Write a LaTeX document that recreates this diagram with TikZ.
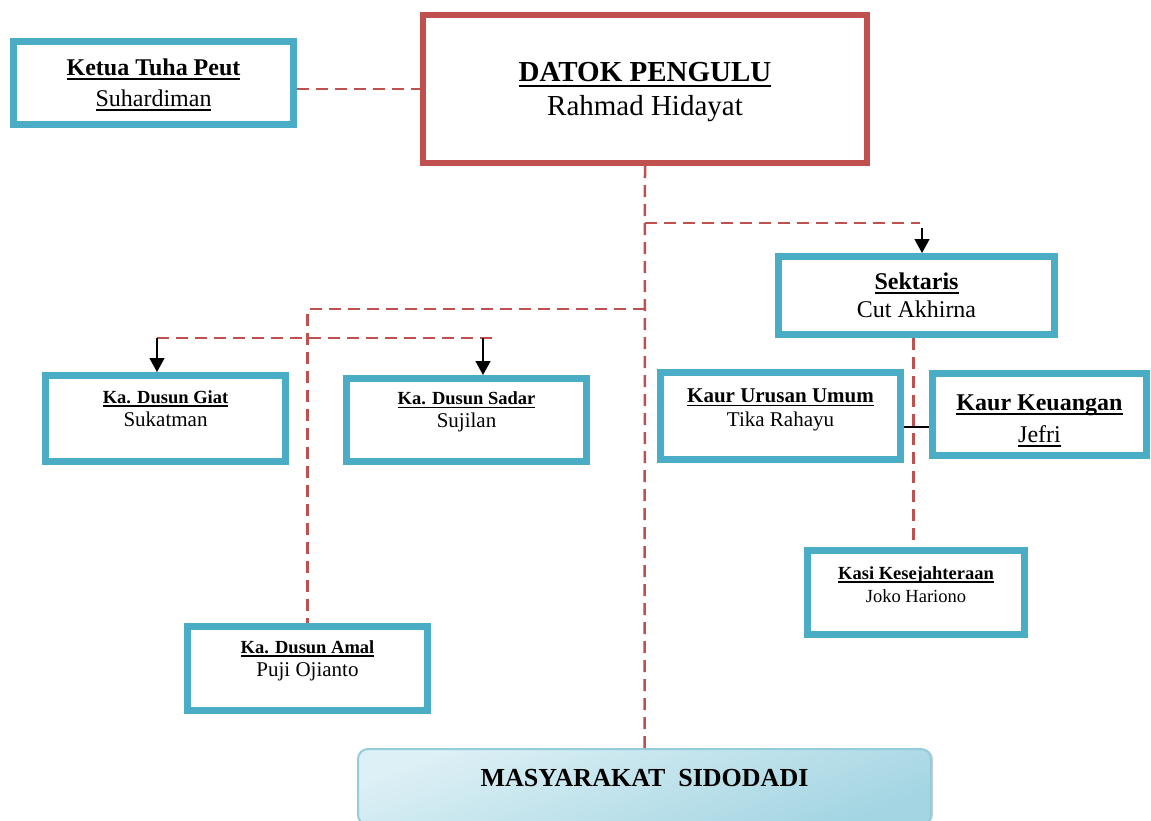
\documentclass[tikz,border=0pt]{standalone}
\usepackage{fontspec}
\setmainfont{Liberation Serif}
\usetikzlibrary{arrows.meta,shadows}

\definecolor{merah}{HTML}{C0504D}
\definecolor{biru}{HTML}{4BACC6}
\definecolor{birumuda}{HTML}{DDF0F5}
\definecolor{birutua}{HTML}{A3D5E2}
\definecolor{tepi}{HTML}{93CDDD}

% garis bawah ala word
\newcommand\gb[1]{\leavevmode\setbox0\hbox{#1}\rlap{\rule[-0.17em]{\wd0}{0.07em}}\box0}

\begin{document}
\begin{tikzpicture}[x=1pt,y=-1pt,
        jabatan/.style={draw=biru,line width=7pt,fill=white,align=center,inner sep=0pt},
        kepala/.style={draw=merah,line width=6pt,fill=white,align=center,inner sep=0pt},
        kecil/.style={font=\fontsize{18.5}{23}\selectfont,text depth=20pt},
        garis/.style={draw=merah,line width=2.5pt,dash pattern=on 12pt off 7pt},
        panah/.style={-{Triangle[length=14pt,width=15pt]},line width=1.5pt},
        hubung/.style={line width=1.5pt},
        rakyat/.style={draw=tepi,line width=2pt,rounded corners=10pt,
          top color=birumuda,bottom color=birutua,shading angle=20,
          drop shadow={shadow xshift=2pt,shadow yshift=0pt,opacity=.35},
          font=\fontsize{26}{30}\selectfont\bfseries,text depth=18pt}]

  \useasboundingbox (0,0) rectangle (1151,820);

  \node[kepala,minimum width=444pt,minimum height=148pt,
        font=\fontsize{29}{34}\selectfont,text depth=0pt] (datok) at (645,89)
        {\textbf{\gb{DATOK PENGULU}}\\Rahmad Hidayat};
  \node[jabatan,minimum width=280pt,minimum height=83pt,
        font=\fontsize{24}{31}\selectfont,text depth=0pt] (ketua) at (153.5,83)
        {\textbf{\gb{Ketua Tuha Peut}}\\\gb{Suhardiman}};
  \node[jabatan,minimum width=276pt,minimum height=78pt,
        font=\fontsize{24}{28}\selectfont] (sek) at (916.5,295.5)
        {\textbf{\gb{Sektaris}}\\Cut Akhirna};

  \node[jabatan,kecil,minimum width=240pt,minimum height=86pt] (giat) at (165.5,418.5)
        {\textbf{\gb{Ka. Dusun Giat}}\\{\fontsize{21}{23}\selectfont Sukatman}};
  \node[jabatan,kecil,minimum width=240pt,minimum height=83pt] (sadar) at (466.5,420)
        {\textbf{\gb{Ka. Dusun Sadar}}\\{\fontsize{21}{23}\selectfont Sujilan}};
  \node[jabatan,kecil,minimum width=240pt,minimum height=84pt] (amal) at (307.5,668.5)
        {\textbf{\gb{Ka. Dusun Amal}}\\{\fontsize{21}{23}\selectfont Puji Ojianto}};

  \node[jabatan,minimum width=240pt,minimum height=87pt,
        font=\fontsize{21}{24}\selectfont,text depth=16pt] (kuu) at (780.5,416)
        {\textbf{\gb{Kaur Urusan Umum}}\\Tika Rahayu};
  \node[jabatan,minimum width=214pt,minimum height=82pt,
        font=\fontsize{24}{32}\selectfont,text depth=0pt,text height=56pt] (kk) at (1039.5,414.5)
        {\textbf{\gb{Kaur Keuangan}}\\\gb{Jefri}};
  \node[jabatan,kecil,minimum width=217pt,minimum height=84pt,text depth=16pt] (kasi) at (916,592.5)
        {\textbf{\gb{Kasi Kesejahteraan}}\\Joko Hariono};

  \node[rakyat,minimum width=573pt,minimum height=76pt] (masy) at (644.5,787)
        {MASYARAKAT\ \ SIDODADI};

  % titik cabang
  \coordinate (kanan) at (645,223);
  \coordinate (ujung) at (920,223);
  \coordinate (asek) at (922,228);
  \coordinate (kiri) at (645,309);
  \coordinate (dl) at (157,338);
  \coordinate (dr) at (495,338);
  \coordinate (ds) at (483,338);

  \draw[garis] (datok.west -| ketua.east) -- (datok.west);
  \draw[garis] (datok.south) -- (masy.north);
  \draw[garis] (kanan) -- (ujung);
  \draw[garis] (kiri) -| (amal.north);
  \draw[garis] (dl) -- (dr);
  \draw[garis] ([xshift=-3pt]sek.south) -- ([xshift=-3pt]sek.south |- kasi.north);

  \draw[panah] (asek) -- (asek |- sek.north);
  \draw[panah] (dl) -- (dl |- giat.north);
  \draw[panah] (ds) -- (ds |- sadar.north);
  \draw[hubung] ([yshift=-11pt]kuu.east) -- ([yshift=-11pt]kuu.east -| kk.west);

\end{tikzpicture}
\end{document}
